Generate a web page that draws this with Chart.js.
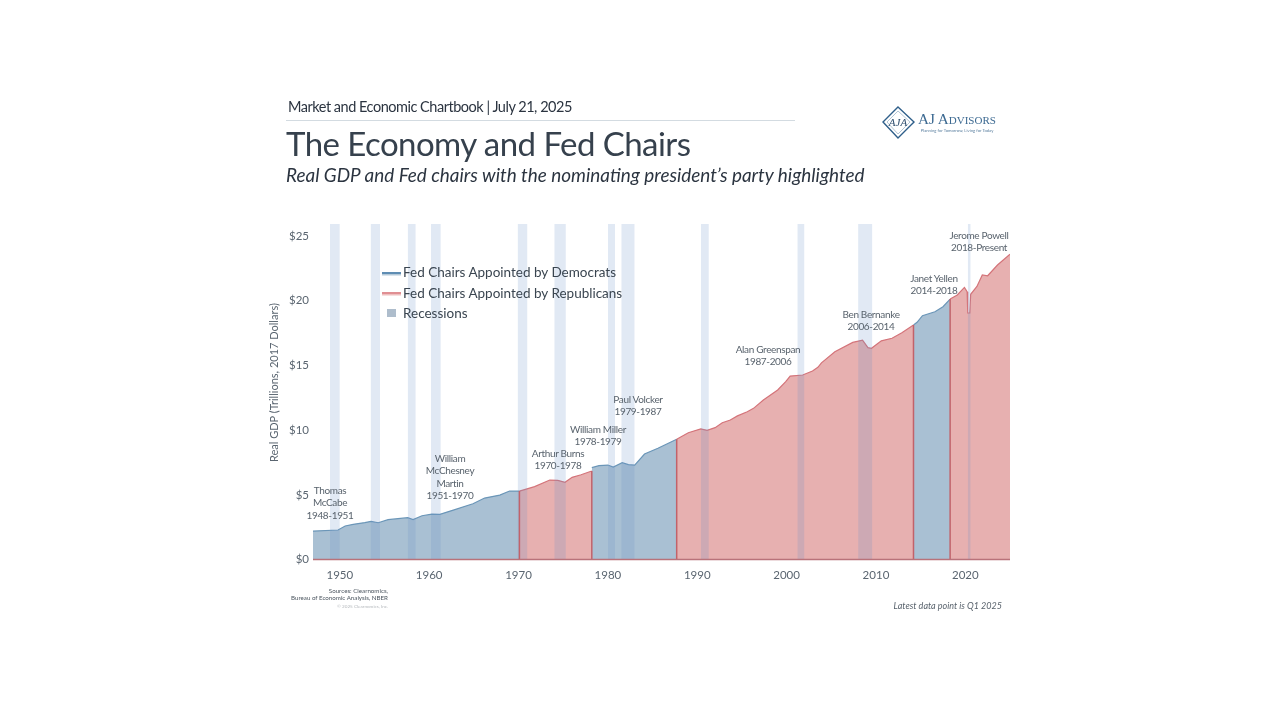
<!DOCTYPE html>
<html lang="en">
<head>
<meta charset="UTF-8">
<title>The Economy and Fed Chairs</title>
<script src="https://cdn.jsdelivr.net/npm/chart.js"></script>
<style>
    html, body { margin: 0; background: #fff; }
    body { width: 1280px; height: 720px; position: relative; overflow: hidden; font-family: Lato, sans-serif; color: #2f3a46; }
    canvas { position: absolute; left: 0; top: 0; }
    .t { position: absolute; white-space: nowrap; line-height: 1; }
    #kicker { left: 288px; top: 100px; font-size: 14.5px; letter-spacing: -0.48px; color: #2b3440; }
    #rule { position: absolute; left: 286px; top: 120px; width: 509px; height: 1px; background: #d3dbe1; }
    #title { left: 286px; top: 127px; font-size: 33px; letter-spacing: -0.55px; color: #36414d; }
    #subtitle { left: 286px; top: 166px; font-size: 18.9px; font-style: italic; color: #2b3440; }
    #ytitle { position: absolute; left: 268px; top: 303px; height: 159px; writing-mode: vertical-rl; transform: rotate(180deg); text-align: center; font-size: 11px; line-height: 12px; color: #5a6570; white-space: nowrap; }
    .chair { position: absolute; transform: translateX(-50%); text-align: center; font-size: 10px; letter-spacing: -0.35px; line-height: 12.3px; color: #59636d; white-space: nowrap; }
    .legend { position: absolute; left: 403px; font-size: 13.5px; line-height: 1; color: #3a4550; white-space: nowrap; }
    .swatch { position: absolute; left: 382px; width: 19px; height: 2px; }
    #src { position: absolute; right: 892px; top: 587px; text-align: right; font-size: 6.2px; line-height: 7.3px; color: #4a545e; white-space: nowrap; }
    #copy { position: absolute; right: 892px; top: 603px; font-size: 4.6px; color: #b5b9bd; white-space: nowrap; }
    #latest { right: 278px; top: 601px; font-size: 9px; font-style: italic; color: #59636d; }
    #logo { position: absolute; left: 878px; top: 102px; }
</style>
</head>
<body>
<canvas id="chart" width="1280" height="720"></canvas>

<div class="t" id="kicker">Market and Economic Chartbook | July 21, 2025</div>
<div id="rule"></div>
<div class="t" id="title">The Economy and Fed Chairs</div>
<div class="t" id="subtitle">Real GDP and Fed chairs with the nominating president’s party highlighted</div>

<svg id="logo" width="125" height="40" viewBox="0 0 125 40">
    <path d="M20 5 L36 20 L20 36 L5 20 Z" fill="none" stroke="#2f5f8a" stroke-width="1.4"/>
    <path d="M9 20 L20 9 L32 20 L20 32 Z" fill="none" stroke="#7f9db8" stroke-width="0.6"/>
    <text x="20" y="24" text-anchor="middle" font-family="Liberation Serif" font-size="11" font-style="italic" fill="#2f4f6f">AJA</text>
    <text x="40" y="22" font-family="Liberation Serif" font-size="15.2" fill="#3d6a92" style="font-variant: small-caps">AJ Advisors</text>
    <text x="79" y="29.5" text-anchor="middle" font-family="Lato" font-size="4.2" fill="#5a7f9f">Planning for Tomorrow, Living for Today</text>
</svg>

<div class="swatch" style="top:272px;background:#5f8db3;box-shadow:0 1.5px 0 #b5cad9"></div>
<div class="legend" style="top:266px">Fed Chairs Appointed by Democrats</div>
<div class="swatch" style="top:292px;background:#e08f93;box-shadow:0 1.5px 0 #efc0c0"></div>
<div class="legend" style="top:287px">Fed Chairs Appointed by Republicans</div>
<div class="swatch" style="top:309px;left:387px;width:9px;height:8px;background:#aebdcc"></div>
<div class="legend" style="top:307px">Recessions</div>

<div id="ytitle">Real GDP (Trillions, 2017 Dollars)</div>
<div id="chairs"></div>

<div id="src">Sources: Clearnomics,<br>Bureau of Economic Analysis, NBER</div>
<div id="copy">© 2025 Clearnomics, Inc.</div>
<div class="t" id="latest">Latest data point is Q1 2025</div>

<script>
    // GDP, one pair of lists per stretch between party changes
    const years1 = [1947, 1949.8, 1950.6, 1951.5, 1952.8, 1953.5, 1954.3, 1955.4, 1957.6, 1958.2, 1959.2, 1960.3, 1961.2, 1962.7, 1964.9, 1966.2, 1967.9, 1969, 1970.1];
    const gdp1 = [2.2, 2.28, 2.59, 2.72, 2.85, 2.95, 2.84, 3.08, 3.23, 3.09, 3.38, 3.5, 3.49, 3.82, 4.31, 4.75, 4.98, 5.29, 5.29];
    const years2 = [1970.1, 1971.8, 1973.5, 1974.4, 1975.2, 1976, 1977, 1978.2];
    const gdp2 = [5.29, 5.63, 6.14, 6.12, 5.97, 6.35, 6.55, 6.84];
    const years3 = [1978.2, 1979, 1980, 1980.6, 1981.6, 1982.3, 1983, 1984.1, 1985.6, 1987.7];
    const gdp3 = [7.1, 7.25, 7.3, 7.15, 7.48, 7.33, 7.3, 8.15, 8.6, 9.29];
    const years4 = [1987.7, 1989, 1990.4, 1991.1, 1992, 1992.8, 1993.7, 1994.5, 1995.6, 1996.3, 1997.4, 1999, 1999.9, 2000.4, 2001.8, 2002.9, 2003.5, 2003.9, 2005.4, 2007.4, 2008.5, 2009.1, 2009.5, 2010.6, 2011.8, 2012.9, 2014.2];
    const gdp4 = [9.29, 9.8, 10.1, 9.98, 10.19, 10.57, 10.78, 11.1, 11.42, 11.68, 12.33, 13.1, 13.74, 14.18, 14.26, 14.57, 14.85, 15.2, 16.06, 16.78, 16.96, 16.37, 16.32, 16.9, 17.1, 17.53, 18.12];
    const years5 = [2014.2, 2014.6, 2015.2, 2016.6, 2017.5, 2018.3];
    const gdp5 = [18.12, 18.33, 18.84, 19.15, 19.54, 20.13];
    const years6 = [2018.3, 2019.1, 2019.9, 2020.2, 2020.27, 2020.5, 2020.6, 2021.3, 2021.9, 2022.5, 2023.6, 2025];
    const gdp6 = [20.13, 20.44, 21.03, 20.7, 19.05, 19.05, 20.5, 21.1, 21.99, 21.93, 22.76, 23.59];

    const recessionStart = [1948.9, 1953.45, 1957.6, 1960.2, 1969.9, 1974, 1980, 1981.5, 1990.4, 2001.2, 2008, 2020.27];
    const recessionEnd = [1950, 1954.5, 1958.5, 1961.3, 1971, 1975.3, 1980.8, 1983, 1991.3, 2002, 2009.6, 2020.6];

    const chairNames = [["Thomas", "McCabe", "1948-1951"], ["William", "McChesney", "Martin", "1951-1970"], ["Arthur Burns", "1970-1978"], ["William Miller", "1978-1979"], ["Paul Volcker", "1979-1987"], ["Alan Greenspan", "1987-2006"], ["Ben Bernanke", "2006-2014"], ["Janet Yellen", "2014-2018"], ["Jerome Powell", "2018-Present"]];
    const chairX = [330, 450, 558, 598, 638, 768, 871, 934, 979];
    const chairY = [484, 452, 447, 423, 393, 343, 308, 272, 229];

    const BLUE = { line: "#6b96b8", fill: "#a9c0d3" };
    const RED = { line: "#d4747a", fill: "#e7b0b0" };
    const DIVIDER = "#c2626a";
    const Y_TOP = 25.93;

    function toPoints(xs, ys) {
        return xs.map((x, i) => ({ x: x, y: ys[i] }));
    }

    function area(xs, ys, colors) {
        return {
            data: toPoints(xs, ys),
            borderColor: colors.line,
            backgroundColor: colors.fill,
            borderWidth: 1.2,
            pointRadius: 0,
            tension: 0,
            fill: "origin",
            order: 3
        };
    }

    function divider(x, top) {
        return {
            data: [{ x: x, y: 0 }, { x: x, y: top }],
            borderColor: DIVIDER,
            borderWidth: 1.5,
            pointRadius: 0,
            fill: false,
            order: 1
        };
    }

    const datasets = [
        area(years1, gdp1, BLUE),
        area(years2, gdp2, RED),
        area(years3, gdp3, BLUE),
        area(years4, gdp4, RED),
        area(years5, gdp5, BLUE),
        area(years6, gdp6, RED),
        divider(years2[0], gdp2[0]),
        divider(years3[0], gdp2[gdp2.length - 1]),
        divider(years4[0], gdp4[0]),
        divider(years5[0], gdp5[0]),
        divider(years6[0], gdp6[0]),
        {
            data: [{ x: years1[0], y: 0 }, { x: 2025, y: 0 }],
            borderColor: "#b9727a",
            borderWidth: 1.5,
            pointRadius: 0,
            fill: false,
            clip: false,
            order: 0
        }
    ];

    // recession bands run the full height and tint whatever is under them
    recessionStart.forEach((start, i) => {
        datasets.push({
            data: [{ x: start, y: Y_TOP }, { x: recessionEnd[i], y: Y_TOP }],
            borderWidth: 0,
            borderColor: "transparent",
            backgroundColor: "rgba(105,145,198,0.2)",
            pointRadius: 0,
            fill: "origin",
            order: 2
        });
    });

    new Chart(document.getElementById("chart").getContext("2d"), {
        type: "line",
        data: { datasets: datasets },
        options: {
            responsive: false,
            animation: false,
            layout: { padding: { left: 266, right: 270, top: 224, bottom: 0 } },
            plugins: { legend: { display: false }, tooltip: { enabled: false } },
            scales: {
                x: {
                    type: "linear",
                    min: 1947,
                    max: 2025,
                    grid: { display: false },
                    border: { display: false },
                    ticks: {
                        stepSize: 10,
                        includeBounds: false,
                        maxRotation: 0,
                        padding: 1,
                        color: "#5a6570",
                        font: { family: "Lato", size: 11.5 },
                        callback: v => String(v)
                    },
                    afterFit: s => { s.height = 160.5; }
                },
                y: {
                    min: 0,
                    max: Y_TOP,
                    grid: { display: false, tickLength: 4 },
                    border: { display: false },
                    ticks: {
                        stepSize: 5,
                        includeBounds: false,
                        padding: 0,
                        color: "#5a6570",
                        font: { family: "Lato", size: 11.5 },
                        callback: v => "$" + v
                    },
                    afterFit: s => { s.width = 47; }
                }
            }
        }
    });

    const chairs = document.getElementById("chairs");
    chairNames.forEach((lines, i) => {
        const el = document.createElement("div");
        el.className = "chair";
        el.style.left = chairX[i] + "px";
        el.style.top = chairY[i] + "px";
        el.innerHTML = lines.join("<br>");
        chairs.appendChild(el);
    });
</script>
</body>
</html>
